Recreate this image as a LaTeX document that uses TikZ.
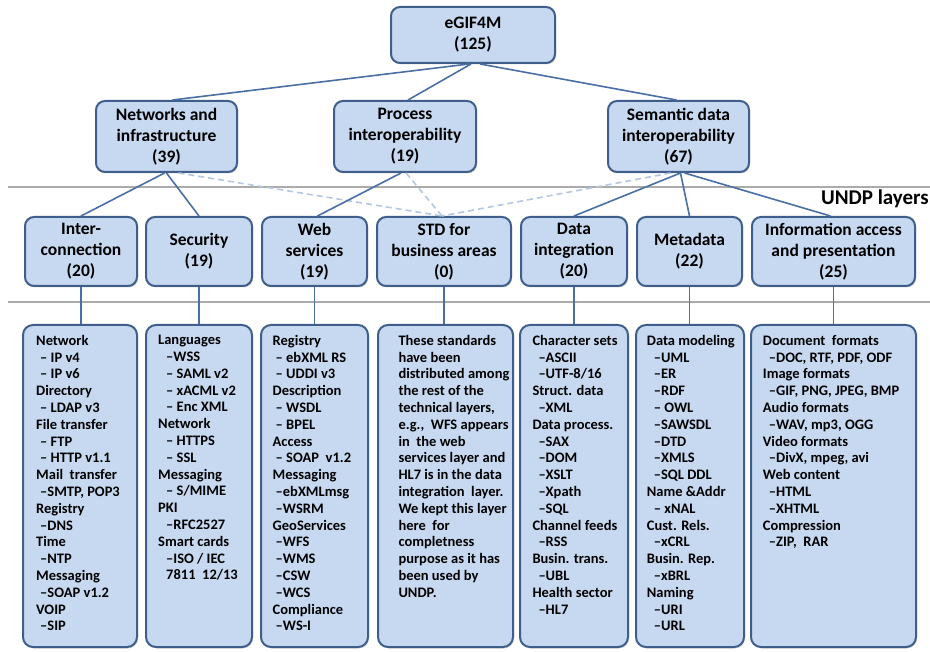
\documentclass[tikz,border=0pt]{standalone}
\usepackage{fontspec}
\setmainfont{Carlito}
\usetikzlibrary{shadows}
\definecolor{boxfill}{HTML}{C6D9F1}
\definecolor{boxdraw}{HTML}{3F5E8A}
\definecolor{conn}{HTML}{4A6FA5}
\definecolor{dashc}{HTML}{B4C7E0}
\definecolor{sepline}{HTML}{ABABAB}
\newcommand\dd[1]{\hspace*{#1pt}–}
\begin{document}
\begin{tikzpicture}[x=1pt,y=-1pt,
  box/.style={draw=boxdraw, line width=2pt, fill=boxfill, rounded corners=9pt,
    drop shadow={shadow xshift=1pt, shadow yshift=-1.5pt, opacity=0.3},
    inner sep=0pt, align=center, font=\fontsize{17.5}{21}\selectfont\bfseries},
  lbox/.style={box, rounded corners=10pt},
  ltext/.style={inner sep=0pt, anchor=north west, align=left, font=\fontsize{14.5}{16.8}\selectfont\bfseries},
  link/.style={draw=conn, line width=1.6pt},
  dlink/.style={draw=dashc, line width=1.6pt, dash pattern=on 6pt off 4pt},
  sep/.style={draw=sepline, line width=2.5pt}]
\useasboundingbox (0,0) rectangle (930,652);

% separator lines
\coordinate (s1a) at (8,187);
\coordinate (s1b) at (930,187);
\coordinate (s2a) at (8,302);
\coordinate (s2b) at (930,302);
\draw[sep] (s1a) -- (s1b);
\draw[sep] (s2a) -- (s2b);
\node[anchor=east, inner sep=0pt, font=\fontsize{21}{24}\selectfont\bfseries] (undp) at (929,199) {UNDP layers};

% level 1
\node[box, minimum width=164, minimum height=56] (top) at (473,35) {eGIF4M\\(125)};
% level 2
\node[box, minimum width=141, minimum height=71] (net) at (166.5,136.5) {Networks and\\infrastructure\\(39)};
\node[box, minimum width=142, minimum height=71] (proc) at (405,136.5) {Process\\interoperability\\(19)};
\node[box, minimum width=141, minimum height=71] (sem) at (678.5,136.5) {Semantic data\\interoperability\\(67)};
% level 3
\node[box, minimum width=112, minimum height=69] (inter) at (81,251.5) {Inter-\\connection\\(20)};
\node[box, minimum width=106, minimum height=69] (secu) at (199,251.5) {Security\\(19)};
\node[box, minimum width=105, minimum height=69] (web) at (314.5,251.5) {Web\\services\\(19)};
\node[box, minimum width=134, minimum height=69] (std) at (444,251.5) {STD for\\business areas\\(0)};
\node[box, minimum width=106, minimum height=69] (dint) at (574,251.5) {Data\\integration\\(20)};
\node[box, minimum width=105, minimum height=69] (meta) at (689.5,251.5) {Metadata\\(22)};
\node[box, minimum width=163, minimum height=69] (info) at (833.5,251.5) {Information access\\and presentation\\(25)};

% level 4 boxes
\node[lbox, minimum width=114, minimum height=322] (b1) at (80,486) {};
\node[lbox, minimum width=106, minimum height=322] (b2) at (199,486) {};
\node[lbox, minimum width=107, minimum height=322] (b3) at (314.5,486) {};
\node[lbox, minimum width=135, minimum height=322] (b4) at (445.5,486) {};
\node[lbox, minimum width=108, minimum height=322] (b5) at (574,486) {};
\node[lbox, minimum width=108, minimum height=322] (b6) at (690,486) {};
\node[lbox, minimum width=165, minimum height=322] (b7) at (833.5,486) {};

% level 4 texts
\node[ltext] (t1) at (36,335) {Network\\\dd4 IP v4\\\dd4 IP v6\\Directory\\\dd4 LDAP v3\\File transfer\\\dd4 FTP\\\dd4 HTTP v1.1\\Mail\ \ transfer\\\dd4SMTP, POP3\\Registry\\\dd4DNS\\Time\\\dd4NTP\\Messaging\\\dd4SOAP v1.2\\VOIP\\\dd4SIP};
\node[ltext] (t2) at (158,335) {Languages\\\dd8WSS\\\dd8 SAML v2\\\dd8 xACML v2\\\dd8 Enc XML\\Network\\\dd8 HTTPS\\\dd8 SSL\\Messaging\\\dd8 S/MIME\\PKI\\\dd8RFC2527\\Smart cards\\\dd8ISO / IEC\\\hspace*{8pt}7811\ \ 12/13};
\node[ltext] (t3) at (272.5,335) {Registry\\\dd3 ebXML RS\\\dd3 UDDI v3\\Description\\\dd3 WSDL\\\dd3 BPEL\\Access\\\dd3 SOAP\ \ v1.2\\Messaging\\\dd3ebXMLmsg\\\dd3WSRM\\GeoServices\\\dd3WFS\\\dd3WMS\\\dd3CSW\\\dd3WCS\\Compliance\\\dd3WS-I};
\node[ltext] (t4) at (398.3,335) {These standards\\have been\\distributed among\\the rest of the\\technical layers,\\e.g.,\ \ WFS appears\\in\ \ the web\\services layer and\\HL7 is in the data\\integration\ \ layer.\\We kept this layer\\here\ \ for\\completness\\purpose as it has\\been used by\\UNDP.};
\node[ltext] (t5) at (532.3,335) {Character sets\\\dd6ASCII\\\dd6UTF-8/16\\Struct. data\\\dd6XML\\Data process.\\\dd6SAX\\\dd6DOM\\\dd6XSLT\\\dd6Xpath\\\dd6SQL\\Channel feeds\\\dd6RSS\\Busin. trans.\\\dd6UBL\\Health sector\\\dd6HL7};
\node[ltext] (t6) at (646.7,335) {Data modeling\\\dd7UML\\\dd7ER\\\dd7RDF\\\dd7 OWL\\\dd7SAWSDL\\\dd7DTD\\\dd7XMLS\\\dd7SQL DDL\\Name \&Addr\\\dd7 xNAL\\Cust. Rels.\\\dd7xCRL\\Busin. Rep.\\\dd7xBRL\\Naming\\\dd7URI\\\dd7URL};
\node[ltext] (t7) at (762.7,335) {Document\ \ formats\\\dd6DOC, RTF, PDF, ODF\\Image formats\\\dd6GIF, PNG, JPEG, BMP\\Audio formats\\\dd6WAV, mp3, OGG\\Video formats\\\dd6DivX, mpeg, avi\\Web content\\\dd6HTML\\\dd6XHTML\\Compression\\\dd6ZIP,\ \ RAR};

% connectors level 1 -> 2
\draw[link] ([xshift=-4pt]top.south) -- ([xshift=6pt]net.north);
\draw[link] ([xshift=-2pt]top.south) -- ([xshift=3pt]proc.north);
\draw[link] ([xshift=7pt]top.south) -- ([xshift=-2pt]sem.north);
% dashed to STD
\draw[dlink] ([xshift=12pt]net.south) -- ([xshift=-2pt]std.north);
\draw[dlink] ([xshift=1pt]proc.south) -- ([xshift=-2pt]std.north);
\draw[dlink] ([xshift=-8pt]sem.south) -- ([xshift=-2pt]std.north);
% connectors level 2 -> 3
\draw[link] ([xshift=-2pt]net.south) -- (inter.north);
\draw[link] (net.south) -- (secu.north);
\draw[link] ([xshift=-4pt]proc.south) -- ([xshift=3pt]web.north);
\draw[link] ([xshift=2pt]sem.south) -- (dint.north);
\draw[link] ([xshift=2pt]sem.south) -- (meta.north);
\draw[link] ([xshift=6pt]sem.south) -- ([xshift=-3pt]info.north);
% connectors level 3 -> 4
\draw[link] (inter.south) -- (inter.south |- b1.north);
\draw[link] (secu.south) -- (secu.south |- b2.north);
\draw[link] (web.south) -- (web.south |- b3.north);
\draw[link] (std.south) -- (std.south |- b4.north);
\draw[link] (dint.south) -- (dint.south |- b5.north);
\draw[link] (meta.south) -- (meta.south |- b6.north);
\draw[link] (info.south) -- (info.south |- b7.north);
\end{tikzpicture}
\end{document}
